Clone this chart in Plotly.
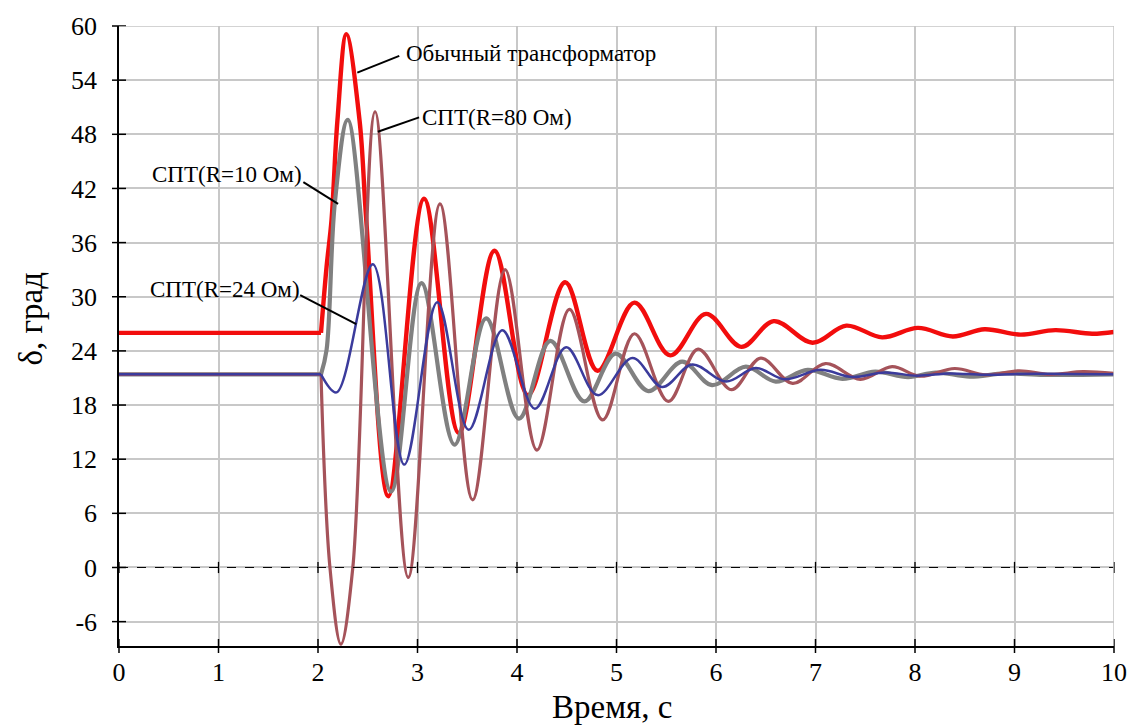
import plotly.graph_objects as go

# ---- data ----
# steady-state (pre-disturbance) segment: [start time, disturbance time]
t_base = [0, 2.03]
base_red = 26.0
base_spt = 21.4

# transient segments, starting at the disturbance instant
t_red = [2.03, 2.086, 2.136, 2.195, 2.285, 2.418, 2.485, 2.707, 3.066, 3.415, 3.774, 4.11,
         4.484, 4.81, 5.18, 5.54, 5.90, 6.255, 6.58, 6.97, 7.31, 7.67, 8.03, 8.38, 8.70, 9.06,
         9.41, 9.78, 10]
v_red = [26, 33.3, 38.5, 49.5, 59.1, 49.5, 38.5, 7.9, 40.85, 14.9, 35.1, 19.1,
         31.6, 21.8, 29.35, 23.5, 28.1, 24.45, 27.3, 24.9, 26.8, 25.5, 26.55, 25.6, 26.4, 25.8,
         26.3, 25.9, 26.1]

t_gray = [2.03, 2.086, 2.17, 2.30, 2.734, 3.04, 3.372, 3.69, 4.02, 4.335, 4.677, 4.99,
          5.32, 5.66, 5.96, 6.30, 6.60, 6.92, 7.27, 7.60, 7.93, 8.21, 8.55, 8.9, 9.3, 10]
v_gray = [21.4, 24.1, 40.5, 49.6, 8.4, 31.5, 13.6, 27.6, 16.5, 25.1, 18.4, 23.7,
          19.55, 22.8, 20.2, 22.25, 20.6, 21.9, 20.9, 21.7, 21.1, 21.6, 21.15, 21.5, 21.35, 21.4]

t_brown = [2.03, 2.12, 2.23, 2.35, 2.574, 2.907, 3.226, 3.554, 3.88, 4.20, 4.527, 4.86, 5.18,
           5.52, 5.82, 6.155, 6.45, 6.77, 7.10, 7.45, 7.77, 8.05, 8.40, 8.71, 9.05, 9.36, 9.69, 10]
v_brown = [21.4, 0.0, -8.5, 0.0, 50.5, -1.1, 40.3, 7.5, 33.0, 13.0, 28.6, 16.35, 25.9,
           18.4, 24.2, 19.7, 23.2, 20.4, 22.6, 20.85, 22.25, 21.2, 22.05, 21.35, 21.8, 21.4, 21.7, 21.5]

t_blue = [2.03, 2.186, 2.551, 2.867, 3.199, 3.515, 3.853, 4.18, 4.494, 4.81, 5.16, 5.46,
          5.76, 6.10, 6.40, 6.69, 7.05, 7.37, 7.70, 8.02, 8.35, 8.70, 9.05, 10]
v_blue = [21.4, 19.4, 33.6, 11.4, 29.4, 15.25, 26.3, 17.6, 24.4, 19.1, 23.2, 20.0,
          22.5, 20.6, 22.1, 20.85, 21.9, 21.1, 21.6, 21.25, 21.5, 21.35, 21.45, 21.4]

x_ticks = [0, 1, 2, 3, 4, 5, 6, 7, 8, 9, 10]
y_ticks = [-6, 0, 6, 12, 18, 24, 30, 36, 42, 48, 54, 60]
y_ticktext = ["-6", "0", "6", "12", "18", "24", "30", "36", "42", "48", "54", "60"]
x_range = [0, 10]
y_range = [-8.7, 60]

labels = ["Обычный трансформатор", "СПТ(R=80 Ом)", "СПТ(R=10 Ом)", "СПТ(R=24 Ом)"]

FONT = "Liberation Serif, Times New Roman, serif"

fig = go.Figure()
series = [
    (t_red, v_red, base_red, "#f20d0d", 4.4),
    (t_gray, v_gray, base_spt, "#808080", 4.2),
    (t_brown, v_brown, base_spt, "#a5535a", 3.2),
    (t_blue, v_blue, base_spt, "#3b3b9c", 2.5),
]
for t, v, b, c, w in series:
    fig.add_trace(go.Scatter(x=t_base, y=[b, b], mode="lines", line=dict(color=c, width=w),
                             showlegend=False, hoverinfo="skip"))
    fig.add_trace(go.Scatter(x=t, y=v, mode="lines", line=dict(color=c, width=w, shape="spline", smoothing=1.0),
                             showlegend=False, hoverinfo="skip"))

# zero dashed line with small ticks
fig.add_shape(type="line", xref="x", yref="y", x0=x_range[0], x1=x_range[1], y0=0, y1=0,
              line=dict(color="black", width=1, dash="dash"), layer="above")
fig.add_trace(go.Scatter(x=x_ticks, y=[0] * len(x_ticks), mode="markers", cliponaxis=False,
                         marker=dict(symbol="line-ns", size=8, line=dict(color="black", width=1.3)),
                         showlegend=False, hoverinfo="skip"))
# crossing ticks on bottom axis
fig.add_trace(go.Scatter(x=x_ticks, y=[y_range[0]] * len(x_ticks), mode="markers", cliponaxis=False,
                         marker=dict(symbol="line-ns", size=10, line=dict(color="black", width=1.5)),
                         showlegend=False, hoverinfo="skip"))
# crossing ticks on left axis
fig.add_trace(go.Scatter(x=[x_range[0]] * len(y_ticks), y=y_ticks, mode="markers", cliponaxis=False,
                         marker=dict(symbol="line-ew", size=10, line=dict(color="black", width=1.5)),
                         showlegend=False, hoverinfo="skip"))

# top / right borders (gray)
fig.add_shape(type="line", xref="x", yref="y", x0=x_range[0], x1=x_range[1], y0=y_range[1], y1=y_range[1],
              line=dict(color="#c4c4c4", width=1.5))
fig.add_shape(type="line", xref="x", yref="y", x0=x_range[1], x1=x_range[1], y0=y_range[0], y1=y_range[1],
              line=dict(color="#c4c4c4", width=1.5))

# leader lines
leaders = [
    (2.395, 54.84, 2.817, 56.69),
    (2.601, 48.29, 3.016, 49.87),
    (1.853, 42.69, 2.202, 40.30),
    (1.821, 30.17, 2.385, 26.96),
]
for x0, y0, x1, y1 in leaders:
    fig.add_shape(type="line", xref="x", yref="y", x0=x0, y0=y0, x1=x1, y1=y1,
                  line=dict(color="black", width=2))

ann_font = dict(family=FONT, size=23, color="black")
fig.add_annotation(x=2.86, y=57.0, text=labels[0], showarrow=False, xanchor="left", yanchor="middle", font=ann_font)
fig.add_annotation(x=3.03, y=49.87, text=labels[1], showarrow=False, xanchor="left", yanchor="middle", font=ann_font)
fig.add_annotation(x=1.86, y=43.6, text=labels[2], showarrow=False, xanchor="right", yanchor="middle", font=ann_font)
fig.add_annotation(x=1.84, y=30.8, text=labels[3], showarrow=False, xanchor="right", yanchor="middle", font=ann_font)

# axis titles
fig.add_annotation(xref="paper", yref="paper", x=-0.088, y=0.529, text="δ, град", textangle=-90,
                   showarrow=False, xanchor="center", yanchor="middle", font=dict(family=FONT, size=33, color="black"))
fig.add_annotation(xref="paper", yref="paper", x=0.495, y=-0.098, text="Время, с",
                   showarrow=False, xanchor="center", yanchor="middle", font=dict(family=FONT, size=33, color="black"))

fig.update_layout(
    width=1139, height=725,
    margin=dict(l=119, r=16, t=25, b=79),
    paper_bgcolor="white", plot_bgcolor="white",
    font=dict(family=FONT, color="black"),
    showlegend=False,
)
fig.update_xaxes(range=x_range, tickvals=x_ticks, ticks="", showgrid=True, gridcolor="#c8c8c8", gridwidth=1.5,
                 showline=True, linecolor="black", linewidth=1.5, zeroline=False,
                 tickfont=dict(family=FONT, size=26, color="black"), ticklabelstandoff=2)
fig.update_yaxes(range=y_range, tickvals=y_ticks, ticktext=y_ticktext, ticks="", showgrid=True,
                 gridcolor="#c8c8c8", gridwidth=1.5,
                 showline=True, linecolor="black", linewidth=1.5, zeroline=False,
                 tickfont=dict(family=FONT, size=26, color="black"), ticklabelstandoff=15)

fig.write_html("out.html")
